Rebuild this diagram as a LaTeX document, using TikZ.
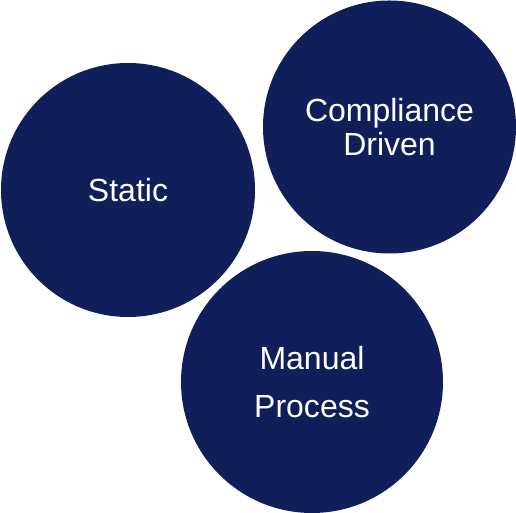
\documentclass[tikz,border=0pt]{standalone}
\usepackage{fontspec}
\setmainfont{Liberation Sans}
\usepackage{xcolor}
\definecolor{navy}{RGB}{16,31,90}

\tikzset{
  bubble/.style={circle, fill=navy, text=white, inner sep=0pt, align=center,
    font=\fontsize{32}{34}\selectfont}
}

\begin{document}
\begin{tikzpicture}[x=1pt, y=1pt]
\useasboundingbox (0,0) rectangle (516,513);

% left circle
\node[bubble, minimum size=254pt] (static) at (128,323) {Static};
% top right circle
\node[bubble, minimum size=253pt] (compliance) at (389.5,386) {Compliance\\Driven};
% bottom circle
\node[bubble, minimum size=262pt] (manual) at (312,131) {Manual\\[14pt]Process};

\end{tikzpicture}
\end{document}
